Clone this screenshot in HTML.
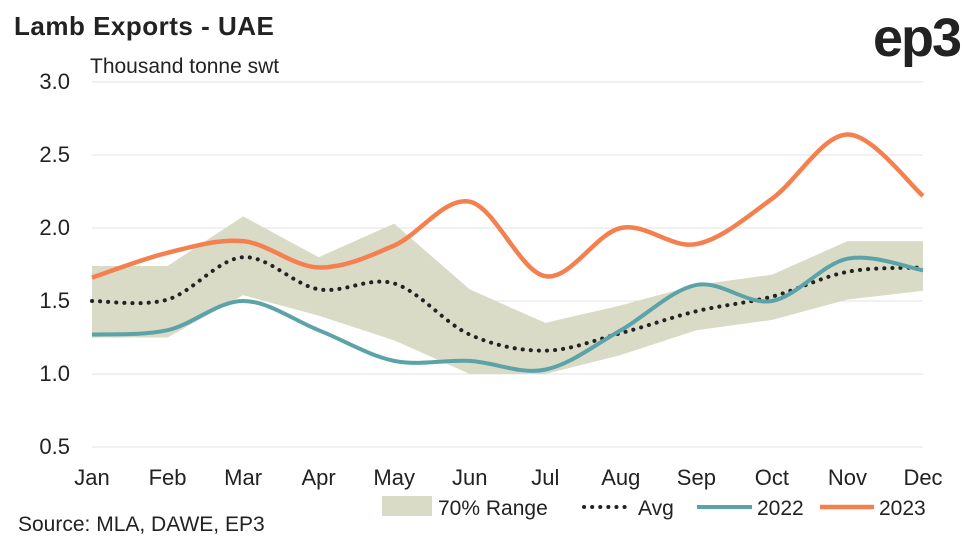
<!DOCTYPE html>
<html><head><meta charset="utf-8">
<style>
html,body{margin:0;padding:0;background:#fff;}
body{width:962px;height:541px;overflow:hidden;font-family:"Liberation Sans",sans-serif;}
</style></head>
<body>
<svg id="chart" width="962" height="541" xmlns="http://www.w3.org/2000/svg">
<text x="14" y="35" font-size="26" font-weight="bold" fill="#222" letter-spacing="0.5">Lamb Exports - UAE</text>
<text x="960" y="56" font-size="54" font-weight="bold" fill="#222" letter-spacing="-2" text-anchor="end">ep3</text>
<text x="90" y="73" font-size="21" fill="#222">Thousand tonne swt</text>
<text x="18" y="531" font-size="21" fill="#222">Source: MLA, DAWE, EP3</text>
<g id="grid"></g><g id="band"></g><g id="lines"></g><g id="axes"></g><g id="legend"></g>
</svg>
<script>
const months=["Jan","Feb","Mar","Apr","May","Jun","Jul","Aug","Sep","Oct","Nov","Dec"];
const yTicks=["0.5","1.0","1.5","2.0","2.5","3.0"];
const s2023=[1.66,1.83,1.91,1.73,1.88,2.18,1.67,2.0,1.89,2.2,2.64,2.22];
const s2022=[1.27,1.30,1.50,1.30,1.09,1.09,1.03,1.30,1.61,1.50,1.79,1.71];
const avg=[1.50,1.51,1.80,1.58,1.62,1.27,1.16,1.28,1.43,1.53,1.70,1.73];
const rangeHi=[1.74,1.74,2.08,1.80,2.03,1.58,1.35,1.47,1.61,1.68,1.91,1.91];
const rangeLo=[1.25,1.25,1.54,1.40,1.23,1.00,1.00,1.13,1.30,1.37,1.51,1.57];
const NS="http://www.w3.org/2000/svg";
const x=i=>92+i*(923-92)/11;
const y=v=>82+(3.0-v)*146;
function el(t,a,p){const e=document.createElementNS(NS,t);for(const k in a)e.setAttribute(k,a[k]);document.getElementById(p).appendChild(e);return e;}
yTicks.forEach(t=>{
 const v=parseFloat(t);
 const g=el('line',{x1:92,x2:923,y1:y(v),y2:y(v),stroke:'#e3e3e3','stroke-width':1},'grid');
 
 
 const l=el('text',{x:70,y:y(v)+7,'font-size':22,'text-anchor':'end',fill:'#222'},'axes');
 l.textContent=t;
 
 
});
months.forEach((m,i)=>{
 const l=el('text',{x:x(i),y:485,'font-size':22,'text-anchor':'middle',fill:'#222'},'axes');
 l.textContent=m;
 
 
});
let d='M'+rangeHi.map((v,i)=>x(i)+','+y(v)).join('L');
for(let i=11;i>=0;i--)d+='L'+x(i)+','+y(rangeLo[i]);
const b=el('path',{d:d+'Z',fill:'#d9dbc6'},'band');


function smooth(arr){
 const p=arr.map((v,i)=>[x(i),y(v)]);
 let s='M'+p[0];
 for(let i=0;i<p.length-1;i++){
  const p0=p[Math.max(0,i-1)],p1=p[i],p2=p[i+1],p3=p[Math.min(p.length-1,i+2)];
  const c1=[p1[0]+(p2[0]-p0[0])/6,p1[1]+(p2[1]-p0[1])/6];
  const c2=[p2[0]-(p3[0]-p1[0])/6,p2[1]-(p3[1]-p1[1])/6];
  s+='C'+c1+' '+c2+' '+p2;
 }
 return s;
}
const a=el('path',{d:smooth(avg),fill:'none',stroke:'#222','stroke-width':4,'stroke-dasharray':'0.1 8','stroke-linecap':'round'},'lines');


const l22=el('path',{d:smooth(s2022),fill:'none',stroke:'#5ba3a8','stroke-width':4},'lines');


const l23=el('path',{d:smooth(s2023),fill:'none',stroke:'#f4804f','stroke-width':4.5},'lines');


const r=el('rect',{x:382,y:496,width:50,height:20,fill:'#d9dbc6'},'legend');


const ld=el('line',{x1:584,x2:628,y1:507,y2:507,stroke:'#222','stroke-width':4,'stroke-dasharray':'0.1 8','stroke-linecap':'round'},'legend');


const l1=el('line',{x1:697,x2:752,y1:507,y2:507,stroke:'#5ba3a8','stroke-width':4},'legend');


const l2=el('line',{x1:820,x2:874,y1:507,y2:507,stroke:'#f4804f','stroke-width':4.5},'legend');


[[438,'70% Range'],[638,'Avg'],[757,'2022'],[879,'2023']].forEach(([px,t])=>{
 const e=el('text',{x:px,y:515,'font-size':21,fill:'#222'},'legend');
 e.textContent=t;
 
 
});
</script>
</body></html>
